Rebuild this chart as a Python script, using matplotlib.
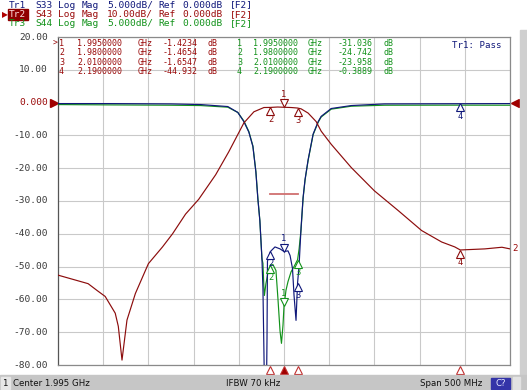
import matplotlib
matplotlib.use("Agg")
import matplotlib.pyplot as plt
from matplotlib.patches import Rectangle
from matplotlib.transforms import ScaledTranslation, blended_transform_factory
import numpy as np

W, H, DPI = 527, 390, 100

# ---------------- data ----------------
center_ghz = 1.995
span_ghz = 0.5
f_start = center_ghz - span_ghz / 2
f_stop = center_ghz + span_ghz / 2

y_ticks = [20, 10, 0, -10, -20, -30, -40, -50, -60, -70, -80]
y_tick_labels = ["20.00", "10.00", "0.000", "-10.00", "-20.00", "-30.00",
                 "-40.00", "-50.00", "-60.00", "-70.00", "-80.00"]

# Tr2  S43 (10 dB/div)
s43_freq = [1.745, 1.7783, 1.7883, 1.7972, 1.8083, 1.8117, 1.8158, 1.8213, 1.8306,
            1.845, 1.8606, 1.8717, 1.8861, 1.9006, 1.9194, 1.9339, 1.9506, 1.9617,
            1.9728, 1.980, 1.988, 1.995, 2.003, 2.010, 2.0139, 2.0217, 2.0306,
            2.0361, 2.0472, 2.0694, 2.095, 2.1217, 2.1472, 2.1694, 2.1839, 2.190,
            2.2172, 2.2361, 2.245]
s43_db = [-52.6, -55.2, -57.3, -59.1, -64.2, -68.2, -78.5, -66.3, -58.2,
          -49.1, -44.0, -40.0, -34.0, -29.5, -22.0, -15.0, -6.2, -2.8,
          -1.5, -1.4654, -1.35, -1.4234, -1.5, -1.6547, -1.9, -3.2, -5.8,
          -8.7, -12.7, -19.8, -26.9, -33.0, -39.0, -42.5, -44.0, -44.932,
          -44.6, -44.1, -44.6]

# Tr1  S33 (5 dB/div)
s33_freq = [1.745, 1.80, 1.87, 1.9028, 1.9328, 1.9439, 1.9506, 1.9561, 1.9606,
            1.9639, 1.9661, 1.9683, 1.9706, 1.9717, 1.9728, 1.9735, 1.9755,
            1.9762, 1.9767, 1.980, 1.985, 1.9906, 1.995, 1.9994, 2.0017, 2.0044,
            2.0061, 2.0083, 2.010, 2.0117, 2.0139, 2.0161, 2.0183, 2.0217,
            2.0272, 2.0328, 2.0361, 2.0472, 2.0694, 2.1061, 2.245]
s33_db = [-0.15, -0.15, -0.2, -0.3, -0.6, -1.5, -2.9, -4.5, -6.7,
          -10.6, -14.7, -18.0, -23.8, -28.3, -38.0, -45.0, -45.0,
          -36.0, -24.2, -22.7, -22.0, -22.3, -22.7, -22.6, -23.3, -25.3,
          -29.4, -33.2, -27.5, -24.8, -19.0, -14.5, -11.7, -8.7,
          -4.8, -2.9, -2.1, -0.9, -0.45, -0.2, -0.15]

# Tr3  S44 (5 dB/div)
s44_freq = [1.745, 1.80, 1.87, 1.9028, 1.9328, 1.9439, 1.9506, 1.9561, 1.9606,
            1.9639, 1.9661, 1.9683, 1.9706, 1.9717, 1.9728, 1.9733, 1.975,
            1.9772, 1.980, 1.9828, 1.9861, 1.9883, 1.9906, 1.9922, 1.9939,
            1.995, 1.9972, 1.9994, 2.0028, 2.0061, 2.010, 2.0117, 2.0139,
            2.0161, 2.0183, 2.0217, 2.0272, 2.0328, 2.0361, 2.0472, 2.0694,
            2.1061, 2.19, 2.245]
s44_db = [-0.3, -0.35, -0.4, -0.45, -0.7, -1.5, -2.8, -4.4, -6.6,
          -10.5, -14.6, -18.0, -23.8, -24.5, -28.3, -29.4, -27.6,
          -26.0, -24.742, -24.7, -25.6, -29.9, -34.8, -36.7, -33.9,
          -31.036, -28.6, -27.3, -25.8, -25.0, -23.958, -22.3, -19.3,
          -14.6, -11.8, -8.8, -4.9, -3.0, -2.2, -1.0, -0.55,
          -0.4, -0.3889, -0.4]

scale_db_per_div = {"S33": 5.0, "S43": 10.0, "S44": 5.0}
axis_db_per_div = 10.0

limit_freq = [1.98, 2.01]
limit_s33_db = [-14.0, -14.0]

marker_ids = ["1", "2", "3", "4"]
marker_freq = [1.995, 1.98, 2.01, 2.19]
s43_marker_db = [-1.4234, -1.4654, -1.6547, -44.932]
s44_marker_db = [-31.036, -24.742, -23.958, -0.3889]
s33_marker_db = [-22.7, -22.7, -27.5, -0.15]

marker_freq_text = ["1.9950000", "1.9800000", "2.0100000", "2.1900000"]
s43_marker_vals = ["-1.4234", "-1.4654", "-1.6547", "-44.932"]
s44_marker_vals = ["-31.036", "-24.742", "-23.958", "-0.3889"]

# ---------------- style ----------------
NAVY = "#10187a"
RED = "#8c0c0c"
RED_T = "#9a0a0a"
GREEN = "#12921a"
GRID = "#c9c9c9"
MONO = "DejaVu Sans Mono"
SANS = "DejaVu Sans"

fig = plt.figure(figsize=(W / DPI, H / DPI), dpi=DPI)
fig.patch.set_facecolor("white")


def fx(x):
    return x / W


def fy(y):
    return 1 - y / H


def ftext(x, y, s, color, size=6.5, family=MONO, ha="left", va="center", **kw):
    fig.text(fx(x), fy(y), s, color=color, fontsize=size, family=family,
             ha=ha, va=va, **kw)


PL, PR, PT, PB = 58, 510, 37, 365
ax = fig.add_axes([fx(PL), fy(PB), (PR - PL) / W, (PB - PT) / H])
ax.set_xlim(f_start, f_stop)
ax.set_ylim(-80, 20)
ax.set_xticks(np.linspace(f_start, f_stop, 11))
ax.set_yticks(y_ticks)
ax.tick_params(length=0, labelbottom=False, labelleft=False)
ax.grid(True, color=GRID, lw=0.8)
for sp in ax.spines.values():
    sp.set_color("#8a8a8a")
    sp.set_linewidth(0.9)
ax.spines["left"].set_color("#555555")
ax.set_axisbelow(True)


def to_axis(vals, key):
    k = axis_db_per_div / scale_db_per_div[key]
    return [v * k for v in vals]


# limit line (Tr1)
ax.plot(limit_freq, to_axis(limit_s33_db, "S33"), color="#d07070", lw=1.3, zorder=2)

ax.plot(s44_freq, to_axis(s44_db, "S44"), color=GREEN, lw=0.85, zorder=3)
ax.plot(s33_freq, to_axis(s33_db, "S33"), color=NAVY, lw=0.85, zorder=4)
ax.plot(s43_freq, s43_db, color=RED, lw=0.85, zorder=5)


def draw_marker(f, v, color, num, active):
    ms = 5.5
    if active:
        tr = ax.transData + ScaledTranslation(0, ms / 2 / 72, fig.dpi_scale_trans)
        ax.plot([f], [v], marker="v", ms=ms, mfc="white", mec=color, mew=0.8,
                transform=tr, clip_on=False, zorder=7, ls="none")
        ax.annotate(num, (f, v), xytext=(0, ms + 0.3), textcoords="offset points",
                    ha="center", va="bottom", color=color, fontsize=6.3,
                    family=MONO, zorder=7)
    else:
        tr = ax.transData + ScaledTranslation(0, -ms / 2 / 72, fig.dpi_scale_trans)
        ax.plot([f], [v], marker="^", ms=ms, mfc="white", mec=color, mew=0.8,
                transform=tr, clip_on=False, zorder=7, ls="none")
        ax.annotate(num, (f, v), xytext=(0, -(ms + 0.2)), textcoords="offset points",
                    ha="center", va="top", color=color, fontsize=6.3,
                    family=MONO, zorder=7)


s44_ax = to_axis(s44_marker_db, "S44")
s33_ax = to_axis(s33_marker_db, "S33")
for i, f in enumerate(marker_freq):
    act = (i == 0)
    if i < 3:
        draw_marker(f, s44_ax[i], GREEN, marker_ids[i], act)
    draw_marker(f, s33_ax[i], NAVY, marker_ids[i], act)
    draw_marker(f, s43_marker_db[i], RED, marker_ids[i], act)

# stimulus markers under the grid
bt = blended_transform_factory(ax.transData, ax.transAxes)
for i, f in enumerate(marker_freq):
    ax.plot([f], [-0.016], marker="^", ms=6, mec="#c03030", mew=0.8,
            mfc="#a00000" if i == 0 else "white", transform=bt, clip_on=False,
            zorder=8, ls="none")

# reference position arrows (Tr2)
yt = blended_transform_factory(ax.transAxes, ax.transData)
ax.plot([-0.009], [0], marker=">", ms=6, color="#a00000", transform=yt,
        clip_on=False, ls="none")
ax.plot([1.011], [0], marker="<", ms=6, color="#a00000", transform=yt,
        clip_on=False, ls="none")
ax.text(1.006, s43_db[-1], "2", color=RED_T, fontsize=6.5, family=MONO,
        transform=yt, ha="left", va="center", clip_on=False)

# y tick labels
for v, lab in zip(y_ticks, y_tick_labels):
    ypx = PT + (20 - v) / 100 * (PB - PT)
    ftext(48, ypx, lab, RED_T if lab == "0.000" else "#3a3a3a", size=6.8, ha="right")

# header
hdr_x = [35, 58, 82, 107, 158, 182, 230]
hdr_rows = [
    (5, "Tr1", ["S33", "Log", "Mag", "5.000dB/", "Ref", "0.000dB", "[F2]"], NAVY),
    (14.3, "Tr2", ["S43", "Log", "Mag", "10.00dB/", "Ref", "0.000dB", "[F2]"], RED_T),
    (23.3, "Tr3", ["S44", "Log", "Mag", "5.000dB/", "Ref", "0.000dB", "[F2]"], GREEN),
]
for y, tr, toks, col in hdr_rows:
    if tr == "Tr2":
        fig.patches.append(Rectangle((fx(8), fy(19.5)), 20 / W, 10 / H,
                                     transform=fig.transFigure, color="#900000", zorder=0))
        ftext(9, y, tr, "#ffdede", size=6.8)
        fig.text(fx(4.5), fy(y), "\u25B6", color="#b00000", fontsize=5.5,
                 ha="center", va="center", family=SANS)
    else:
        ftext(9, y, tr, col, size=6.8)
    for x, t in zip(hdr_x, toks):
        ftext(x, y, t, col, size=6.8)

# marker tables: one multi-line text per column
TS = 6.0
LS = 1.07
TOP = 38.8
cols = [
    (59, marker_ids, RED_T), (77, marker_freq_text, RED_T),
    (138, ["GHz"] * 4, RED_T), (163, s43_marker_vals, RED_T), (208, ["dB"] * 4, RED_T),
    (237, marker_ids, GREEN), (253, marker_freq_text, GREEN),
    (308, ["GHz"] * 4, GREEN), (338, s44_marker_vals, GREEN), (383, ["dB"] * 4, GREEN),
]
for x, items, col in cols:
    ftext(x, TOP, "\n".join(items), col, size=TS, va="top", linespacing=LS)
ftext(53, TOP, ">", RED_T, size=5.8, va="top")
ftext(452, 46, "Tr1: Pass", NAVY, size=6.6)

# right gray strip
fig.patches.append(Rectangle((fx(520), fy(375)), 7 / W, 345 / H,
                             transform=fig.transFigure, color="#cfcfcf", zorder=0))
# status bar
fig.patches.append(Rectangle((0, 0), 1, 15 / H, transform=fig.transFigure,
                             color="#c6c6c6", zorder=0))
fig.patches.append(Rectangle((fx(0.5), fy(389)), 9 / W, 12 / H, transform=fig.transFigure,
                             color="#e6e6e6", zorder=1))
fig.patches.append(Rectangle((fx(491), fy(388.5)), 19 / W, 11 / H, transform=fig.transFigure,
                             color="#3434a8", zorder=1))
fig.patches.append(Rectangle((fx(513), fy(389)), 7 / W, 12 / H, transform=fig.transFigure,
                             color="#e2e2e2", zorder=1))
ftext(2.5, 383, "1", "#111111", size=6.2, family=SANS)
ftext(13, 383, "Center 1.995 GHz", "#111111", size=6.2, family=SANS)
ftext(226, 383, "IFBW 70 kHz", "#111111", size=6.2, family=SANS)
ftext(420, 383, "Span 500 MHz", "#111111", size=6.2, family=SANS)
ftext(500.5, 383, "C?", "#e8e8ff", size=6.2, family=SANS, ha="center")

fig.savefig("out.png", dpi=DPI)
